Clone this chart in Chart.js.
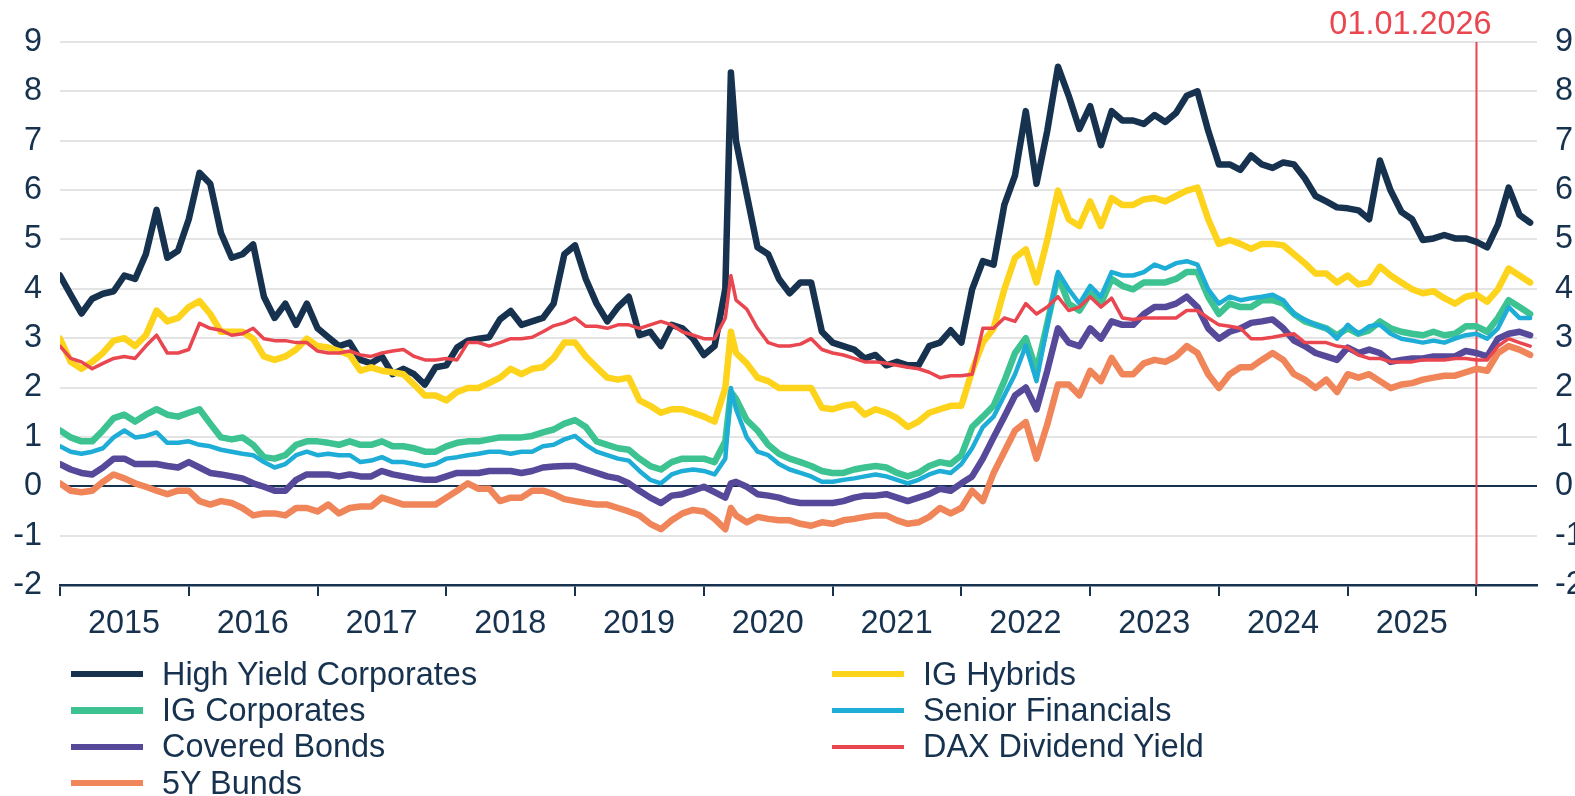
<!DOCTYPE html>
<html>
<head>
<meta charset="utf-8">
<script src="https://cdn.jsdelivr.net/npm/chart.js@4.4.1/dist/chart.umd.min.js"></script>
<style>
  body { margin: 0; background: #fff; }
  #wrap { position: relative; width: 1575px; height: 796px; overflow: hidden; }
  #legenda { position: absolute; left: 0; top: 656px; font: 32.4px 'Liberation Sans', Arial, sans-serif; color: #17324f; }
  .item { position: absolute; display: flex; align-items: center; height: 36px; white-space: nowrap; }
  .marca { display: inline-block; width: 72px; margin-right: 19px; }
</style>
</head>
<body>
<div id="wrap">
  <canvas id="grafico" width="1575" height="796"></canvas>
  <div id="legenda"></div>
</div>
<script>
// datas mensais (1o de cada mes) de jan/2015 a jun/2026, mais o pico de marco/2020
const datas = [];
for (let i = 0; i < 138; i++) {
    datas.push(2015 + i / 12);
    if (i === 62) datas.push(2020.21);
}

const anos = [2015, 2016, 2017, 2018, 2019, 2020, 2021, 2022, 2023, 2024, 2025, 2026];
const marcoData = 2026;
const marcoTexto = "01.01.2026";

const highYield = [
    4.27, 3.88, 3.5, 3.8, 3.9, 3.95, 4.27, 4.2, 4.7, 5.6, 4.63, 4.77,
    5.41, 6.35, 6.13, 5.13, 4.63, 4.7, 4.9, 3.84, 3.41, 3.7, 3.27, 3.7,
    3.2, 3.02, 2.84, 2.91, 2.56, 2.49, 2.63, 2.27, 2.38, 2.27, 2.06, 2.41,
    2.45, 2.81, 2.95, 2.99, 3.02, 3.38, 3.55, 3.27, 3.34, 3.41, 3.7, 4.7,
    4.88, 4.2, 3.7, 3.34, 3.63, 3.84, 3.06, 3.13, 2.84, 3.27, 3.2, 2.99,
    2.66, 2.84, 4.0, 8.38, 6.99, 5.91, 4.84, 4.7, 4.2, 3.91, 4.13, 4.13, 3.13,
    2.91, 2.84, 2.77, 2.59, 2.66, 2.45, 2.52, 2.45, 2.45, 2.84, 2.91, 3.16,
    2.91, 3.99, 4.56, 4.49, 5.7, 6.3, 7.6, 6.13, 7.2, 8.5, 7.91, 7.24,
    7.7, 6.91, 7.6, 7.41, 7.41, 7.34, 7.52, 7.38, 7.56, 7.91, 8.0, 7.2,
    6.52, 6.52, 6.41, 6.7, 6.52, 6.45, 6.56, 6.52, 6.24, 5.88, 5.77, 5.65,
    5.63, 5.59, 5.41, 6.6, 5.99, 5.56, 5.41, 4.99, 5.02, 5.09, 5.02, 5.02,
    4.95, 4.84, 5.3, 6.05, 5.5, 5.34
];

const igHybrids = [
    2.99, 2.52, 2.38, 2.52, 2.7, 2.95, 3.0, 2.84, 3.06, 3.56, 3.34, 3.41,
    3.63, 3.75, 3.49, 3.13, 3.13, 3.13, 2.99, 2.63, 2.56, 2.63, 2.77, 2.99,
    2.84, 2.81, 2.74, 2.66, 2.34, 2.41, 2.34, 2.31, 2.27, 2.06, 1.84, 1.84,
    1.74, 1.91, 1.99, 1.99, 2.09, 2.2, 2.38, 2.27, 2.38, 2.41, 2.6, 2.91,
    2.91, 2.63, 2.41, 2.2, 2.16, 2.2, 1.74, 1.63, 1.49, 1.56, 1.56, 1.49,
    1.41, 1.31, 1.99, 3.13, 2.7, 2.49, 2.2, 2.13, 1.99, 1.99, 1.99, 1.99, 1.59,
    1.56, 1.63, 1.66, 1.45, 1.56, 1.49, 1.38, 1.2, 1.31, 1.49, 1.56, 1.63,
    1.63, 2.34, 2.91, 3.2, 3.99, 4.63, 4.8, 4.13, 4.99, 5.99, 5.41, 5.27,
    5.77, 5.27, 5.84, 5.7, 5.7, 5.81, 5.84, 5.77, 5.88, 5.99, 6.05, 5.41,
    4.91, 4.99, 4.91, 4.81, 4.91, 4.91, 4.88, 4.7, 4.52, 4.31, 4.31, 4.13,
    4.27, 4.09, 4.13, 4.45, 4.27, 4.13, 3.99, 3.91, 3.95, 3.81, 3.7, 3.84,
    3.88, 3.74, 3.99, 4.41, 4.27, 4.13
];

const igCorporates = [
    1.13, 0.99, 0.91, 0.91, 1.13, 1.38, 1.45, 1.31, 1.45, 1.56, 1.45, 1.41,
    1.49, 1.56, 1.27, 0.99, 0.95, 0.99, 0.84, 0.59, 0.56, 0.63, 0.84, 0.91,
    0.91, 0.88, 0.84, 0.91, 0.84, 0.84, 0.91, 0.81, 0.81, 0.77, 0.7, 0.7,
    0.81, 0.88, 0.91, 0.91, 0.95, 0.99, 0.99, 0.99, 1.02, 1.09, 1.15, 1.27,
    1.34, 1.2, 0.91, 0.84, 0.77, 0.74, 0.56, 0.41, 0.34, 0.49, 0.56, 0.56,
    0.56, 0.49, 0.91, 1.91, 1.77, 1.34, 1.13, 0.84, 0.66, 0.56, 0.49, 0.41, 0.31,
    0.27, 0.27, 0.34, 0.38, 0.41, 0.38, 0.27, 0.2, 0.27, 0.41, 0.49, 0.45,
    0.63, 1.2, 1.41, 1.63, 2.13, 2.7, 3.0, 2.34, 3.3, 4.27, 3.7, 3.56,
    3.91, 3.7, 4.2, 4.06, 3.99, 4.13, 4.13, 4.13, 4.2, 4.34, 4.34, 3.84,
    3.49, 3.7, 3.63, 3.63, 3.77, 3.77, 3.7, 3.49, 3.34, 3.27, 3.2, 3.06,
    3.2, 3.09, 3.16, 3.34, 3.2, 3.13, 3.09, 3.06, 3.13, 3.06, 3.09, 3.24,
    3.24, 3.13, 3.41, 3.77, 3.63, 3.49
];

const seniorFinancials = [
    0.81, 0.7, 0.66, 0.7, 0.77, 0.99, 1.13, 0.99, 1.02, 1.09, 0.88, 0.88,
    0.91, 0.84, 0.81, 0.74, 0.7, 0.66, 0.63, 0.49, 0.38, 0.45, 0.63, 0.7,
    0.63, 0.66, 0.63, 0.63, 0.49, 0.52, 0.59, 0.49, 0.49, 0.45, 0.41, 0.45,
    0.56, 0.59, 0.63, 0.66, 0.7, 0.7, 0.66, 0.7, 0.7, 0.81, 0.84, 0.95,
    1.02, 0.84, 0.7, 0.63, 0.56, 0.52, 0.31, 0.13, 0.06, 0.24, 0.31, 0.34,
    0.31, 0.24, 0.56, 1.99, 1.56, 0.99, 0.7, 0.63, 0.45, 0.34, 0.27, 0.2, 0.09,
    0.09, 0.13, 0.16, 0.2, 0.24, 0.2, 0.13, 0.06, 0.13, 0.24, 0.31, 0.27,
    0.45, 0.77, 1.2, 1.41, 1.84, 2.27, 2.85, 2.13, 3.25, 4.34, 3.99, 3.7,
    4.06, 3.84, 4.34, 4.27, 4.27, 4.34, 4.49, 4.41, 4.52, 4.56, 4.49, 3.99,
    3.7, 3.84, 3.77, 3.81, 3.84, 3.88, 3.77, 3.49, 3.38, 3.27, 3.2, 2.99,
    3.27, 3.09, 3.24, 3.27, 3.09, 2.99, 2.95, 2.91, 2.95, 2.91, 2.99, 3.06,
    3.09, 2.99, 3.2, 3.63, 3.41, 3.41
];

const coveredBonds = [
    0.45, 0.34, 0.27, 0.24, 0.38, 0.56, 0.56, 0.45, 0.45, 0.45, 0.41, 0.38,
    0.49, 0.38, 0.27, 0.24, 0.2, 0.16, 0.06, -0.01, -0.09, -0.09, 0.13, 0.24,
    0.24, 0.24, 0.2, 0.24, 0.2, 0.2, 0.31, 0.24, 0.2, 0.16, 0.13, 0.13,
    0.2, 0.27, 0.27, 0.27, 0.31, 0.31, 0.31, 0.27, 0.31, 0.38, 0.4, 0.41,
    0.41, 0.34, 0.27, 0.2, 0.16, 0.06, -0.09, -0.23, -0.34, -0.19, -0.16, -0.09,
    -0.01, -0.12, -0.23, 0.06, 0.09, -0.01, -0.16, -0.19, -0.23, -0.3, -0.34, -0.34, -0.34,
    -0.34, -0.3, -0.23, -0.19, -0.19, -0.16, -0.23, -0.3, -0.23, -0.16, -0.05, -0.09,
    0.06, 0.2, 0.56, 0.99, 1.41, 1.84, 2.0, 1.56, 2.34, 3.2, 2.91, 2.84,
    3.2, 2.99, 3.34, 3.27, 3.27, 3.49, 3.63, 3.63, 3.7, 3.84, 3.63, 3.2,
    2.99, 3.13, 3.2, 3.31, 3.34, 3.38, 3.2, 2.95, 2.84, 2.7, 2.63, 2.56,
    2.81, 2.7, 2.77, 2.7, 2.52, 2.56, 2.59, 2.59, 2.63, 2.63, 2.63, 2.74,
    2.7, 2.63, 2.99, 3.09, 3.13, 3.06
];

const daxDividend = [
    2.84, 2.59, 2.52, 2.38, 2.49, 2.59, 2.63, 2.59, 2.84, 3.06, 2.7, 2.7,
    2.77, 3.3, 3.2, 3.16, 3.06, 3.09, 3.2, 2.99, 2.95, 2.95, 2.91, 2.91,
    2.74, 2.7, 2.7, 2.74, 2.66, 2.63, 2.7, 2.74, 2.77, 2.63, 2.56, 2.56,
    2.59, 2.56, 2.91, 2.91, 2.84, 2.91, 2.99, 2.99, 3.02, 3.13, 3.25, 3.31,
    3.41, 3.24, 3.24, 3.2, 3.27, 3.27, 3.2, 3.27, 3.34, 3.27, 3.13, 3.06,
    2.99, 2.99, 3.41, 4.27, 3.77, 3.59, 3.2, 2.91, 2.84, 2.84, 2.88, 2.99, 2.77,
    2.7, 2.66, 2.59, 2.52, 2.52, 2.49, 2.45, 2.41, 2.38, 2.31, 2.2, 2.24,
    2.24, 2.27, 3.2, 3.2, 3.41, 3.34, 3.7, 3.49, 3.63, 3.84, 3.56, 3.63,
    3.84, 3.63, 3.81, 3.41, 3.38, 3.41, 3.41, 3.41, 3.41, 3.56, 3.56, 3.41,
    3.27, 3.24, 3.2, 2.99, 2.99, 3.02, 3.06, 3.09, 2.91, 2.91, 2.91, 2.84,
    2.81, 2.66, 2.59, 2.59, 2.52, 2.52, 2.52, 2.56, 2.56, 2.56, 2.59, 2.59,
    2.56, 2.56, 2.84, 2.99, 2.91, 2.84
];

const bunds5y = [
    0.06, -0.09, -0.12, -0.09, 0.09, 0.24, 0.16, 0.06, -0.01, -0.09, -0.16, -0.09,
    -0.09, -0.3, -0.37, -0.3, -0.34, -0.44, -0.59, -0.55, -0.55, -0.59, -0.44, -0.44,
    -0.51, -0.37, -0.55, -0.44, -0.41, -0.41, -0.23, -0.3, -0.37, -0.37, -0.37, -0.37,
    -0.23, -0.09, 0.06, -0.05, -0.05, -0.3, -0.23, -0.23, -0.09, -0.09, -0.16, -0.26,
    -0.3, -0.34, -0.37, -0.37, -0.44, -0.51, -0.59, -0.76, -0.87, -0.69, -0.55, -0.48,
    -0.51, -0.66, -0.87, -0.44, -0.59, -0.73, -0.62, -0.66, -0.69, -0.69, -0.76, -0.8, -0.73,
    -0.76, -0.69, -0.66, -0.62, -0.59, -0.59, -0.69, -0.76, -0.73, -0.62, -0.44, -0.55,
    -0.44, -0.09, -0.3, 0.27, 0.7, 1.13, 1.3, 0.56, 1.25, 2.06, 2.06, 1.84,
    2.34, 2.13, 2.6, 2.27, 2.27, 2.49, 2.56, 2.52, 2.63, 2.84, 2.7, 2.27,
    1.99, 2.27, 2.41, 2.41, 2.56, 2.7, 2.56, 2.27, 2.16, 1.99, 2.16, 1.91,
    2.27, 2.2, 2.27, 2.13, 1.99, 2.06, 2.09, 2.16, 2.2, 2.24, 2.24, 2.31,
    2.38, 2.34, 2.7, 2.84, 2.77, 2.66
];

const azul = "#16324f";
const fonte = "'Liberation Sans', Arial, sans-serif";

// ordem: menor = desenhado por cima
const series = [
    { label: "High Yield Corporates", data: highYield, cor: "#16324f", largura: 6.5, ordem: 6, coluna: 0, linha: 0 },
    { label: "IG Corporates", data: igCorporates, cor: "#3cc391", largura: 6.5, ordem: 5, coluna: 0, linha: 1 },
    { label: "Covered Bonds", data: coveredBonds, cor: "#56499a", largura: 6.5, ordem: 4, coluna: 0, linha: 2 },
    { label: "5Y Bunds", data: bunds5y, cor: "#ef8558", largura: 6.5, ordem: 3, coluna: 0, linha: 3 },
    { label: "IG Hybrids", data: igHybrids, cor: "#fdd31c", largura: 6.5, ordem: 2, coluna: 1, linha: 0 },
    { label: "Senior Financials", data: seniorFinancials, cor: "#1eadd6", largura: 4.5, ordem: 1, coluna: 1, linha: 1 },
    { label: "DAX Dividend Yield", data: daxDividend, cor: "#e9464f", largura: 3.5, ordem: 0, coluna: 1, linha: 2 }
];

const linhaMarco = {
    id: "linhaMarco",
    beforeDatasetsDraw(chart) {
        const { ctx, chartArea, scales } = chart;
        const x = scales.x.getPixelForValue(marcoData);
        ctx.save();
        ctx.strokeStyle = "#e9464f";
        ctx.lineWidth = 2;
        ctx.beginPath();
        ctx.moveTo(x, chartArea.top);
        ctx.lineTo(x, chartArea.bottom);
        ctx.stroke();
        ctx.restore();
    },
    afterDraw(chart) {
        const { ctx, scales } = chart;
        const x = scales.x.getPixelForValue(marcoData);
        ctx.save();
        ctx.fillStyle = "#e9464f";
        ctx.font = "32.4px " + fonte;
        ctx.textAlign = "right";
        ctx.textBaseline = "alphabetic";
        ctx.fillText(marcoTexto, x + 15, 34);
        ctx.restore();
    }
};

function desenharGrafico() {
    const ctx = document.getElementById("grafico").getContext("2d");
    const eixoY = (posicao) => ({
        type: "linear",
        position: posicao,
        min: -2,
        max: 9,
        ticks: { stepSize: 1, color: azul, padding: 18, font: { family: fonte, size: 32.4 } },
        border: { display: false },
        grid: posicao === "left" ? {
            drawTicks: false,
            color: c => c.tick.value === 0 ? azul : "#e4e4e4",
            lineWidth: 2
        } : { display: false, drawTicks: false },
        afterFit: s => { s.width = posicao === "left" ? 60 : 38; }
    });

    return new Chart(ctx, {
        type: "line",
        data: {
            datasets: series.map(s => ({
                label: s.label,
                data: s.data.map((v, i) => ({ x: datas[i], y: v })),
                borderColor: s.cor,
                backgroundColor: s.cor,
                borderWidth: s.largura,
                pointRadius: 0,
                tension: 0,
                order: s.ordem,
                borderJoinStyle: "round",
                borderCapStyle: "round"
            }))
        },
        options: {
            responsive: false,
            animation: false,
            layout: { padding: { top: 42, bottom: 151, left: 0, right: 0 } },
            plugins: { legend: { display: false }, tooltip: { enabled: false } },
            scales: {
                x: {
                    type: "linear",
                    min: 2015,
                    max: 2026.47,
                    afterBuildTicks: s => { s.ticks = anos.map(v => ({ value: v })); },
                    afterFit: s => { s.height = 60; },
                    ticks: {
                        color: azul,
                        font: { family: fonte, size: 32.4 },
                        autoSkip: false,
                        maxRotation: 0,
                        padding: 9,
                        labelOffset: 64,
                        callback: v => v < 2026 ? String(v) : ""
                    },
                    grid: { drawOnChartArea: false, drawTicks: true, tickLength: 11, color: azul, lineWidth: 2 },
                    border: { display: true, color: azul, width: 2.5 }
                },
                y: eixoY("left"),
                y2: eixoY("right")
            }
        },
        plugins: [linhaMarco]
    });
}

function montarLegenda() {
    const container = document.getElementById("legenda");
    container.innerHTML = series.map(s =>
        `<div class="item" style="left:${s.coluna ? 832 : 71}px;top:${s.linha * 36.4}px">` +
        `<span class="marca" style="height:${s.largura}px;background:${s.cor}"></span>${s.label}</div>`
    ).join("");
}

window.onload = () => {
    desenharGrafico();
    montarLegenda();
};
</script>
</body>
</html>
